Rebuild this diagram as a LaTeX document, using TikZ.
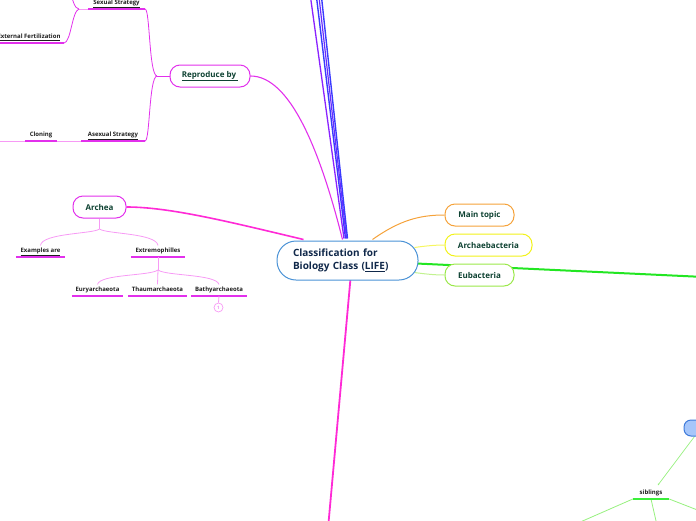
\documentclass[tikz,border=0pt]{standalone}
\usepackage{fontspec}
\setmainfont{Open Sans}
\usetikzlibrary{calc,arrows.meta}
\definecolor{tgreen}{HTML}{0E4232}
\definecolor{navy}{HTML}{10284A}
\definecolor{cblue}{HTML}{4A92D6}
\definecolor{mag}{HTML}{E230EC}
\definecolor{magl}{HTML}{F79AF5}
\definecolor{pinkc}{HTML}{FF2AD6}
\definecolor{orangec}{HTML}{F5A23A}
\definecolor{yellowc}{HTML}{F2F21A}
\definecolor{lgreen}{HTML}{9BE84A}
\definecolor{lgreenc}{HTML}{C2F290}
\definecolor{bgreen}{HTML}{22E622}
\definecolor{sgreen}{HTML}{96F07E}
\definecolor{ugreen}{HTML}{3AEE3A}
\definecolor{purp}{HTML}{8A22FF}
\definecolor{bluel}{HTML}{3A3AFF}
\definecolor{bnfill}{HTML}{A6C6FA}
\definecolor{bnborder}{HTML}{3F7BDA}
\definecolor{leaftext}{HTML}{1E1E1E}
\pgfdeclarelayer{bg}
\pgfsetlayers{bg,main}
\begin{document}
\begin{tikzpicture}[x=1pt,y=-1pt,
 topic/.style={draw, rounded corners=10pt, line width=1pt, fill=white, text=tgreen,
   font=\bfseries\fontsize{8}{10}\selectfont, minimum height=22pt, inner sep=0pt},
 leaf/.style={anchor=south, text=leaftext, font=\bfseries\fontsize{6}{7}\selectfont,
   inner xsep=0pt, inner ysep=2.5pt, text height=4.6pt, text depth=1.6pt},
 ul/.style={draw=mag, line width=1.6pt},
 br/.style={draw=magl, line width=0.8pt},
 ulg/.style={draw=ugreen, line width=1.6pt},
 brg/.style={draw=sgreen, line width=0.8pt},
]
\useasboundingbox (0,0) rectangle (696,520);
\clip (0,0) rectangle (696,520);

% ---- main nodes
\node[draw=cblue, line width=1pt, rounded corners=19pt, minimum height=39pt,
  fill=white, text=navy, font=\bfseries\fontsize{10}{13}\selectfont, align=left,
  text width=109pt, inner xsep=16pt, inner ysep=0pt] (center) at (347.5,260.5)
  {Classification for\\Biology Class (\underline{LIFE})};
\node[topic, draw=orangec, minimum width=69pt] (maintopic) at (479.5,215) {Main topic};
\node[topic, draw=yellowc, minimum width=87pt] (archaeb) at (488.5,245) {Archaebacteria};
\node[topic, draw=lgreen, minimum width=69pt] (eubact) at (479.5,275) {Eubacteria};
\node[topic, draw=mag, minimum width=80pt] (reproduce) at (210,76) {\underline{Reproduce by\ }};
\node[topic, draw=mag, minimum width=53pt] (archea) at (99.5,207) {Archea};
\node[draw=bnborder, fill=bnfill, line width=1pt, rounded corners=7pt,
  minimum width=46pt, minimum height=16pt] (bluenode) at (707,428) {};

% ---- leaves
\node[leaf, minimum width=57pt] (sexual) at (116.5,9) {\underline{Sexual Strategy}};
\node[leaf, minimum width=70pt] (extfert) at (29,43) {\underline{External Fertilization}};
\node[leaf, minimum width=64pt] (asexual) at (113,141) {\underline{Asexual Strategy}};
\node[leaf, minimum width=32pt] (cloning) at (41,141) {Cloning};
\node[leaf, minimum width=49pt] (examples) at (40.5,257) {\underline{Examples are}};
\node[leaf, minimum width=54pt] (extremo) at (158,257) {Extremophilles};
\node[leaf, minimum width=51pt] (eury) at (97.5,296) {Euryarchaeota};
\node[leaf, minimum width=59pt] (thaum) at (157.5,296) {Thaumarchaeota};
\node[leaf, minimum width=56pt] (bathy) at (219,296) {Bathyarchaeota};
\node[leaf, minimum width=36pt] (siblings) at (651,499) {siblings};
\node[circle, draw=magl, line width=0.7pt, minimum size=9pt, inner sep=0pt,
  text=mag, font=\fontsize{4.5}{5}\selectfont] (circ1) at (218.5,307.5) {1};

% ---- free ends
\coordinate (bt1) at (310.5,-3);
\coordinate (bt2) at (316.5,-3);
\coordinate (bt3) at (319,-3);
\coordinate (bt4) at (321.5,-3);
\coordinate (gend) at (700,276.8);
\coordinate (mb) at (328.5,523);
\coordinate (rj) at (157,76);
\coordinate (sj) at (79,9);
\coordinate (sjup) at (71,-4);
\coordinate (clend) at (-3,141);
\coordinate (aj) at (99.5,229);
\coordinate (ej) at (158,270);
\coordinate (sibend) at (658,485);
\coordinate (sl) at (578,523);
\coordinate (sm) at (656.5,523);
\coordinate (sr) at (700,511);

\begin{pgfonlayer}{bg}
% blue / purple bundle
\draw[purp, line width=1.3pt] ($(center.north)+(-3.5,-2)$) -- (bt1);
\draw[bluel, line width=1.4pt] ($(center.north)+(-2,-2)$) -- (bt2);
\draw[purp!60!bluel, line width=1.2pt] ($(center.north)+(-1,-2)$) -- (bt3);
\draw[bluel, line width=1.4pt] ($(center.north)+(0,-2)$) -- (bt4);
% reproduce connector
\draw[mag, line width=1.1pt] (reproduce.east) .. controls (290,76) and (320,150) .. ($(center.north)+(-5,-1)$);
% archea connector
\draw[pinkc, line width=1.6pt] (archea.east) .. controls (170,207) and (230,222) .. ($(center.north west)+(27,-1)$);
% bottom pink line
\draw[pinkc, line width=1.8pt] ($(center.south)+(3,-2)$) -- (mb);
% right side
\draw[orangec, line width=1pt] ($(center.north)+(25,-1)$) .. controls (400,220) and (420,215) .. (maintopic.west);
\draw[yellowc!70!white, line width=1pt] ($(center.east)+(-4,-13)$) .. controls (425,246) and (435,245) .. (archaeb.west);
\draw[lgreenc, line width=1pt] ($(center.east)+(-4,12)$) .. controls (425,274) and (435,275) .. (eubact.west);
\draw[bgreen, line width=2pt] ($(center.east)+(-2,3)$) -- (gend);
% blue node to siblings
\draw[sgreen, line width=0.7pt, -{Circle[length=1.6pt]}] ($(bluenode.south west)+(11,0)$) -- (sibend);
\end{pgfonlayer}

% ---- reproduce branches
\draw[mag, line width=0.8pt] (reproduce.west) -- (rj);
\draw[mag, line width=0.8pt] (rj) .. controls (149,75) and (150,10) .. (sexual.south east);
\draw[mag, line width=0.8pt] (rj) .. controls (149,77) and (150,140) .. (asexual.south east);
\draw[ul] (sexual.south west) -- (sexual.south east);
\draw[ul] (asexual.south west) -- (asexual.south east);
\draw[br] (sexual.south west) -- (sj);
\draw[mag, line width=0.8pt] (sj) .. controls (74,8) and (74,2) .. (sjup);
\draw[mag, line width=0.8pt] (sj) .. controls (72,11) and (71,42) .. (extfert.south east);
\draw[ul] (extfert.south west) -- (extfert.south east);
\draw[br] (asexual.south west) -- (cloning.south east);
\draw[ul] (cloning.south west) -- (cloning.south east);
\draw[br] (cloning.south west) -- (clend);

% ---- archea branches
\draw[br] (archea.south) -- (aj);
\draw[br] (aj) .. controls (93,234) and (42,233) .. (examples.north);
\draw[br] (aj) .. controls (106,234) and (156,233) .. (extremo.north);
\draw[ul] (examples.south west) -- (examples.south east);
\draw[ul] (extremo.south west) -- (extremo.south east);
\draw[br] (extremo.south) -- (ej);
\draw[br] (ej) .. controls (150,276) and (100,274) .. (eury.north);
\draw[br] (ej) -- (thaum.north);
\draw[br] (ej) .. controls (166,276) and (216,274) .. (bathy.north);
\draw[ul] (eury.south west) -- (eury.south east);
\draw[ul] (thaum.south west) -- (thaum.south east);
\draw[ul] (bathy.south west) -- (bathy.south east);
\draw[br] (bathy.south) -- (circ1.north);

% ---- siblings
\draw[brg] (siblings.south west) -- (sl);
\draw[brg] (siblings.south) -- (sm);
\draw[brg] (siblings.south east) -- (sr);
\draw[ulg] (siblings.south west) -- (siblings.south east);
\end{tikzpicture}
\end{document}
